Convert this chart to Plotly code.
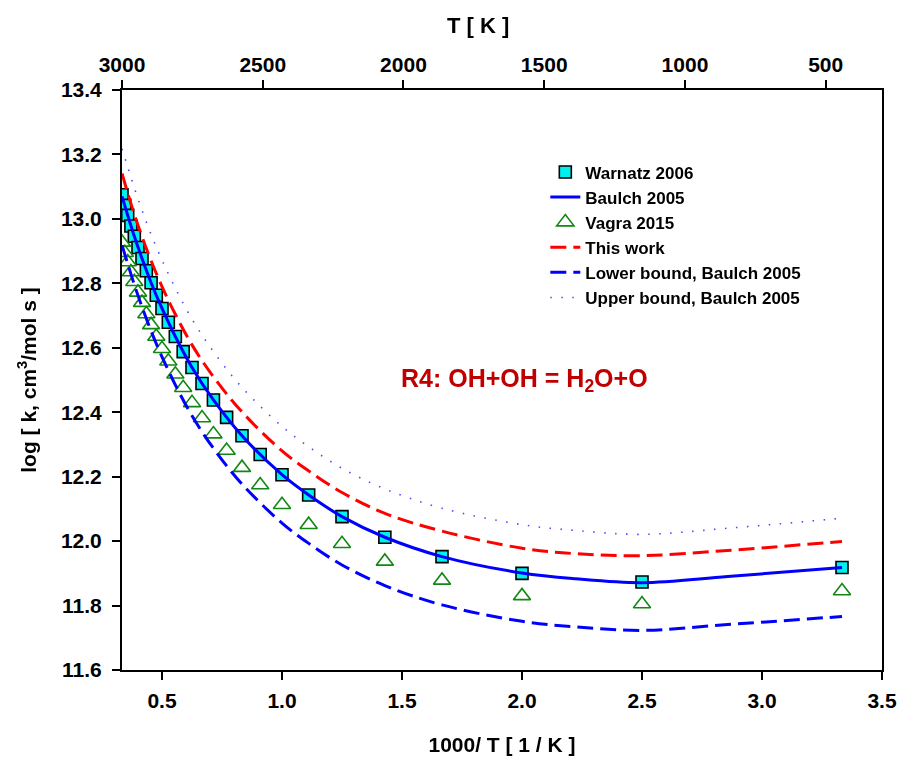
import plotly.graph_objects as go

# ---------------- data ----------------
# temperatures of the discrete points (K); x = 1000/T
T_pts = [3000, 2900, 2800, 2700, 2600, 2500, 2400, 2300, 2200, 2100, 2000,
         1900, 1800, 1700, 1600, 1500, 1400, 1300, 1200, 1100, 1000,
         900, 800, 700, 600, 500, 400, 300]
warnatz_2006 = [13.075, 13.042, 13.011, 12.978, 12.946, 12.911, 12.877, 12.839,
                12.802, 12.763, 12.722, 12.679, 12.635, 12.588, 12.539, 12.489,
                12.438, 12.384, 12.327, 12.269, 12.206, 12.143, 12.076, 12.012,
                11.952, 11.900, 11.873, 11.918]
vagra_2015 = [12.927, 12.895, 12.866, 12.835, 12.805, 12.772, 12.740, 12.705,
              12.671, 12.635, 12.597, 12.558, 12.518, 12.476, 12.429, 12.382,
              12.332, 12.281, 12.228, 12.174, 12.113, 12.051, 11.992, 11.937,
              11.878, 11.830, 11.805, 11.845]

# temperatures of the curve nodes (K)
T_line = [3000, 2800, 2600, 2400, 2200, 2000, 1800, 1600, 1400, 1200, 1000,
          900, 800, 700, 600, 500, 450, 400, 350, 300]
baulch_2005 = [13.070, 13.011, 12.946, 12.877, 12.802, 12.722, 12.635, 12.539,
               12.438, 12.327, 12.206, 12.143, 12.076, 12.012, 11.952, 11.901,
               11.883, 11.871, 11.890, 11.918]
this_work = [13.141, 13.080, 13.014, 12.945, 12.870, 12.790, 12.704, 12.609,
             12.510, 12.401, 12.280, 12.218, 12.151, 12.086, 12.031, 11.978,
             11.961, 11.955, 11.971, 11.999]
lower_baulch = [12.918, 12.861, 12.796, 12.727, 12.652, 12.572, 12.485, 12.389,
                12.288, 12.177, 12.056, 11.993, 11.926, 11.862, 11.802, 11.751,
                11.734, 11.723, 11.741, 11.766]
upper_baulch = [13.218, 13.161, 13.096, 13.027, 12.952, 12.872, 12.785, 12.689,
                12.588, 12.477, 12.356, 12.293, 12.226, 12.162, 12.102, 12.051,
                12.033, 12.021, 12.040, 12.071]

x_ticks = [0.5, 1.0, 1.5, 2.0, 2.5, 3.0, 3.5]
y_ticks = [11.6, 11.8, 12.0, 12.2, 12.4, 12.6, 12.8, 13.0, 13.2, 13.4]
T_ticks = [3000, 2500, 2000, 1500, 1000, 500]

x_pts = [1000.0 / t for t in T_pts]
x_line = [1000.0 / t for t in T_line]

FONT = "Liberation Sans"
DASH = "16px,7px"

fig = go.Figure()
fig.add_trace(go.Scatter(
    x=x_pts, y=warnatz_2006, mode="markers", name="Warnatz 2006",
    marker=dict(symbol="square", size=12, color="#00f0f0",
                line=dict(color="black", width=1.6))))
fig.add_trace(go.Scatter(
    x=x_line, y=baulch_2005, mode="lines", name="Baulch 2005",
    line=dict(color="#0000ff", width=3, shape="spline")))
fig.add_trace(go.Scatter(
    x=x_pts, y=vagra_2015, mode="markers", name="Vagra 2015",
    marker=dict(symbol="triangle-up-open", size=15, color="#118811",
                line=dict(color="#118811", width=1.6))))
fig.add_trace(go.Scatter(
    x=x_line, y=this_work, mode="lines", name="This work",
    line=dict(color="#ff0000", width=3, dash=DASH, shape="spline")))
fig.add_trace(go.Scatter(
    x=x_line, y=lower_baulch, mode="lines", name="Lower bound, Baulch 2005",
    line=dict(color="#0000ff", width=3, dash=DASH, shape="spline")))
fig.add_trace(go.Scatter(
    x=x_line, y=upper_baulch, mode="lines", name="Upper bound, Baulch 2005",
    line=dict(color="#4b4bff", width=1.6, dash="1.5px,9.5px", shape="spline")))
# invisible trace so that the top temperature axis is drawn
fig.add_trace(go.Scatter(
    x=T_pts, y=warnatz_2006, xaxis="x2", mode="markers", opacity=0,
    showlegend=False, hoverinfo="skip"))

fig.add_annotation(
    x=2.01, y=12.50, xref="x", yref="y", showarrow=False,
    text="R4: OH+OH = H<sub>2</sub>O+O",
    font=dict(family=FONT, size=25, color="#c00000", weight="bold"))
# title of the top temperature axis
fig.add_annotation(
    x=0.469, y=1.112, xref="paper", yref="paper", showarrow=False,
    xanchor="center", yanchor="middle", text="T [ K ]",
    font=dict(family=FONT, size=22, color="black", weight="bold"))

fig.update_layout(
    width=909, height=765,
    margin=dict(l=122, r=21, t=90, b=92),
    paper_bgcolor="white", plot_bgcolor="white",
    showlegend=True,
    legend=dict(x=0.557, y=0.889, xanchor="left", yanchor="top",
                bgcolor="rgba(0,0,0,0)", borderwidth=0,
                font=dict(family=FONT, size=17, color="black", weight="bold"),
                tracegroupgap=0, itemwidth=30),
    xaxis=dict(range=[1000.0 / 3000, 3.5], tickvals=x_ticks,
               ticktext=[f"{v:.1f}" for v in x_ticks],
               showgrid=False, zeroline=False,
               showline=True, linecolor="black", linewidth=2,
               ticks="outside", ticklen=8, tickwidth=1.5, tickcolor="black",
               ticklabelstandoff=3,
               tickfont=dict(family=FONT, size=21, color="black", weight="bold"),
               title=dict(text="1000/ T [ 1 / K ]", standoff=26,
                          font=dict(family=FONT, size=21, color="black", weight="bold"))),
    xaxis2=dict(range=[3000, 300], overlaying="x", side="top", anchor="y",
                tickvals=T_ticks, ticktext=[str(t) for t in T_ticks],
                showgrid=False, zeroline=False,
                showline=True, linecolor="black", linewidth=2,
                ticks="outside", ticklen=8, tickwidth=1.5, tickcolor="black",
                tickfont=dict(family=FONT, size=21, color="black", weight="bold")),
    yaxis=dict(range=[11.6, 13.4], tickvals=y_ticks,
               ticktext=[f"{v:.1f}" for v in y_ticks],
               showgrid=False, zeroline=False,
               showline=True, linecolor="black", linewidth=2, mirror=True,
               ticks="outside", ticklen=8, tickwidth=1.5, tickcolor="black",
               ticklabelstandoff=6,
               tickfont=dict(family=FONT, size=21, color="black", weight="bold"),
               title=dict(text="log [ k, cm<sup>3</sup>/mol s ]", standoff=19,
                          font=dict(family=FONT, size=21, color="black", weight="bold"))),
)

fig.write_html("out.html")
